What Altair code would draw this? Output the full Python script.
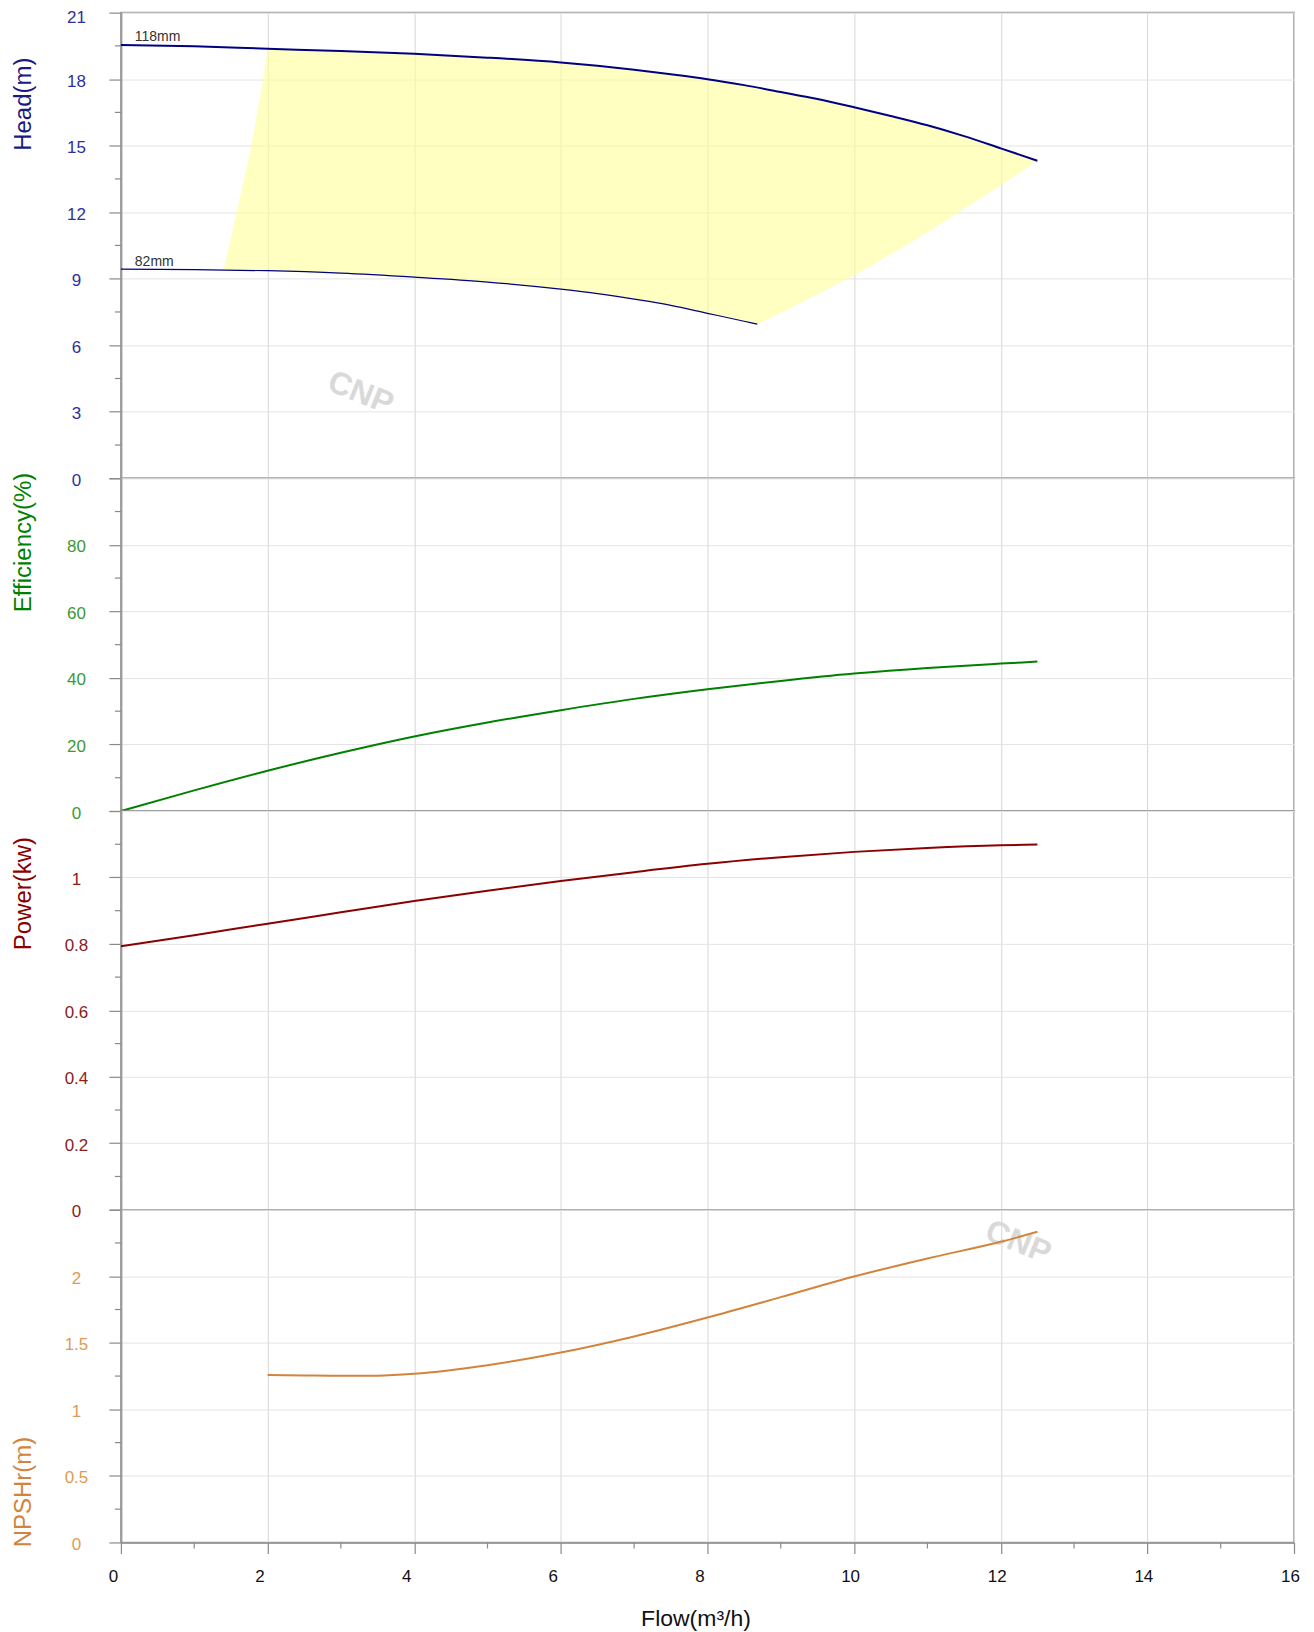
import altair as alt
import pandas as pd

FONT = "Liberation Sans"

# ---------------- data ----------------
flow_118 = [0, 1, 2, 3, 4, 5, 6, 6.5, 7, 7.5, 8, 8.5, 9, 9.5, 10, 10.5, 11, 11.5, 12, 12.5]
head_118 = [19.54, 19.48, 19.37, 19.27, 19.14, 18.97, 18.75, 18.6, 18.42, 18.22, 18.0,
            17.73, 17.42, 17.1, 16.73, 16.34, 15.92, 15.43, 14.88, 14.32]
flow_82 = [0, 1, 2, 3, 4, 5, 6, 6.5, 7, 7.5, 8, 8.5, 8.68]
head_82 = [9.43, 9.41, 9.36, 9.25, 9.07, 8.85, 8.53, 8.33, 8.08, 7.8, 7.44, 7.08, 6.95]

region_flow = [1.4, 1.58, 1.78, 1.94, 2.0, 3, 4, 5, 6, 6.5, 7, 7.5, 8, 8.5, 8.68,
               9, 9.5, 10, 10.5, 11, 11.5, 12, 12.5]
region_top = [9.38, 12.0, 15.0, 18.0, 19.37, 19.27, 19.14, 18.97, 18.75, 18.6, 18.42, 18.22,
              18.0, 17.73, 17.64, 17.42, 17.1, 16.73, 16.34, 15.92, 15.43, 14.88, 14.32]
region_bottom = [9.38, 9.38, 9.37, 9.36, 9.36, 9.25, 9.07, 8.85, 8.53, 8.33, 8.08, 7.8,
                 7.44, 7.08, 6.95, 7.45, 8.3, 9.15, 10.1, 11.1, 12.15, 13.2, 14.32]

diam_labels = ["118mm", "82mm"]
diam_label_flow = [0.19, 0.19]
diam_label_head = [19.72, 9.57]

flow_perf = [0, 1, 2, 3, 4, 5, 6, 7, 8, 9, 10, 11, 12, 12.5]
efficiency = [0, 6.2, 12.1, 17.5, 22.4, 26.6, 30.3, 33.7, 36.6, 39.1, 41.3, 43.0, 44.3, 44.9]
power = [0.793, 0.826, 0.861, 0.895, 0.929, 0.960, 0.989, 1.016, 1.041, 1.061, 1.077,
         1.089, 1.097, 1.099]

flow_npsh = [2, 2.5, 3, 3.5, 4, 5, 6, 7, 8, 9, 10, 11, 12, 12.5]
npshr = [1.259, 1.255, 1.252, 1.253, 1.267, 1.332, 1.427, 1.548, 1.690, 1.843, 1.998,
         2.134, 2.259, 2.334]

x_major = [0, 2, 4, 6, 8, 10, 12, 14, 16]
x_minor = [1, 3, 5, 7, 9, 11, 13, 15]

head_ticks = [0, 3, 6, 9, 12, 15, 18, 21]
head_minor = [1.5, 4.5, 7.5, 10.5, 13.5, 16.5, 19.5]
eff_ticks = [0, 20, 40, 60, 80, 100]
eff_minor = [10, 30, 50, 70, 90]
pow_ticks = [0, 0.2, 0.4, 0.6, 0.8, 1.0, 1.2]
pow_minor = [0.1, 0.3, 0.5, 0.7, 0.9, 1.1]
npsh_ticks = [0, 0.5, 1.0, 1.5, 2.0, 2.5]
npsh_minor = [0.25, 0.75, 1.25, 1.75, 2.25]

watermark = ["CNP", "CNP"]
wm_head = (3.27, 3.85)
wm_npsh = (12.24, 2.256)

# ---------------- layout ----------------
W = 1174
H_HEAD, H_EFF, H_POW, H_NPSH = 466, 333, 399, 333

GRID_X = "#d6d6d6"
GRID_Y = "#e4e4e4"
TICK = "#8a8a8a"

XS = alt.Scale(domain=[0, 16], nice=False, zero=False)


def x_axis(bottom):
    if bottom:
        return alt.Axis(values=x_major, grid=True, gridColor=GRID_X, domain=True,
                        domainColor="#8a8a8a", domainWidth=1.5, ticks=True, tickSize=11,
                        tickColor=TICK, tickWidth=1.2, labels=True, labelFontSize=17,
                        labelFont=FONT, labelColor="#111111", labelPadding=15,
                        labelOffset={"condition": {"test": "datum.value < 10", "value": -8},
                                     "value": -4},
                        labelFlush=False, labelOverlap=False,
                        title="Flow(m³/h)", titleFont=FONT, titleFontSize=23,
                        titleFontWeight="normal", titleColor="#111111", titleX=575,
                        titleY=83, titleAlign="center", titleBaseline="alphabetic")
    return alt.Axis(values=x_major, grid=True, gridColor=GRID_X, domain=False, ticks=False,
                    labels=False, title=None)


def xenc(bottom=False):
    return alt.X("flow:Q", scale=XS, axis=x_axis(bottom))


def y_axis(vals, title, ty, talign, lcolor, tcolor, hide_top):
    expr = "format(datum.value, '~g')"
    if hide_top is not None:
        expr = "datum.value >= %s ? '' : %s" % (hide_top, expr)
    return alt.Axis(values=vals, labelExpr=expr, grid=True, gridColor=GRID_Y, gridWidth=1,
                    domain=True, domainColor="#9a9a9a", domainWidth=2, ticks=True,
                    tickSize=12, tickColor=TICK, tickWidth=1.2, labelFontSize=17,
                    labelFont=FONT, labelColor=lcolor, labelAlign="center",
                    labelBaseline="middle", labelPadding=33,
                    labelOffset={"condition": {"test": "datum.value == 21", "value": 4.5},
                                 "value": 2},
                    labelOverlap=False,
                    title=title, titleFont=FONT, titleFontSize=24, titleFontWeight="normal",
                    titleColor=tcolor, titleAngle=270, titleX=-97.5, titleY=ty,
                    titleAlign=talign, titleBaseline="middle")


def minor_y(vals, yenc):
    df = pd.DataFrame({"v": vals})
    return alt.Chart(df).mark_rule(color=TICK, strokeWidth=1.2).encode(
        y=yenc, x=alt.value(-6), x2=alt.value(0))


def wm_layer(pos, yenc, bottom=False):
    df = pd.DataFrame({"flow": [pos[0]], "v": [pos[1]], "t": [watermark[0]]})
    return alt.Chart(df).mark_text(angle=22, fontSize=32, fontWeight="bold", font=FONT,
                                   color="#d9d9d9", align="center",
                                   baseline="middle").encode(
        x=xenc(bottom), y=yenc, text="t:N")


# ---------------- head panel ----------------
y_head = alt.Y("v:Q", scale=alt.Scale(domain=[0, 21], nice=False, zero=False),
               axis=y_axis(head_ticks, "Head(m)", 44.5, "right", "#30309a", "#1a1a80", None))

df_region = pd.DataFrame({"flow": region_flow, "v": region_top, "v2": region_bottom})
df_118 = pd.DataFrame({"flow": flow_118, "v": head_118})
df_82 = pd.DataFrame({"flow": flow_82, "v": head_82})
df_dl = pd.DataFrame({"flow": diam_label_flow, "v": diam_label_head, "t": diam_labels})

head_panel = alt.layer(
    alt.Chart(df_region).mark_area(color="#ffff99", opacity=0.6, interpolate="linear").encode(
        x=xenc(), y=y_head, y2="v2:Q"),
    minor_y(head_minor, y_head),
    wm_layer(wm_head, y_head),
    alt.Chart(df_118).mark_line(color="#000080", strokeWidth=2, interpolate="monotone").encode(
        x=xenc(), y=y_head),
    alt.Chart(df_82).mark_line(color="#000080", strokeWidth=1.2, interpolate="monotone").encode(
        x=xenc(), y=y_head),
    alt.Chart(df_dl).mark_text(align="left", baseline="alphabetic", fontSize=14, font=FONT,
                               color="#333333").encode(x=xenc(), y=y_head, text="t:N"),
).properties(width=W, height=H_HEAD)

# ---------------- efficiency panel ----------------
y_eff = alt.Y("v:Q", scale=alt.Scale(domain=[0, 100], nice=False, zero=False),
              axis=y_axis(eff_ticks, "Efficiency(%)", -6, "right", "#3c9a34", "#008000", 100))
df_eff = pd.DataFrame({"flow": flow_perf, "v": efficiency})
eff_panel = alt.layer(
    minor_y(eff_minor, y_eff),
    alt.Chart(df_eff).mark_line(color="#008000", strokeWidth=2, interpolate="monotone").encode(
        x=xenc(), y=y_eff),
).properties(width=W, height=H_EFF)

# ---------------- power panel ----------------
y_pow = alt.Y("v:Q", scale=alt.Scale(domain=[0, 1.2], nice=False, zero=False),
              axis=y_axis(pow_ticks, "Power(kw)", 25.5, "right", "#8b2020", "#8b0000", 1.2))
df_pow = pd.DataFrame({"flow": flow_perf, "v": power})
pow_panel = alt.layer(
    minor_y(pow_minor, y_pow),
    alt.Chart(df_pow).mark_line(color="#8b0000", strokeWidth=2, interpolate="monotone").encode(
        x=xenc(), y=y_pow),
).properties(width=W, height=H_POW)

# ---------------- NPSHr panel ----------------
y_npsh = alt.Y("v:Q", scale=alt.Scale(domain=[0, 2.5], nice=False, zero=False),
               axis=y_axis(npsh_ticks, "NPSHr(m)", 337.3, "left", "#e09a55", "#d2843c", 2.5))
df_npsh = pd.DataFrame({"flow": flow_npsh, "v": npshr})
df_xminor = pd.DataFrame({"flow": x_minor})
npsh_panel = alt.layer(
    minor_y(npsh_minor, y_npsh),
    alt.Chart(df_xminor).mark_rule(color=TICK, strokeWidth=1.2).encode(
        x=xenc(True), y=alt.value(H_NPSH), y2=alt.value(H_NPSH + 6)),
    wm_layer(wm_npsh, y_npsh, True),
    alt.Chart(df_npsh).mark_line(color="#d2843c", strokeWidth=2, interpolate="monotone").encode(
        x=xenc(True), y=y_npsh),
).properties(width=W, height=H_NPSH)

chart = alt.vconcat(head_panel, eff_panel, pow_panel, npsh_panel, spacing=0,
                    bounds="flush").properties(
    padding={"left": 2, "top": -2, "right": 5, "bottom": 5},
    background="white",
).configure_view(stroke="#999999", strokeWidth=1.5)

chart.save("out.html", embed_options={"renderer": "svg", "actions": False})
